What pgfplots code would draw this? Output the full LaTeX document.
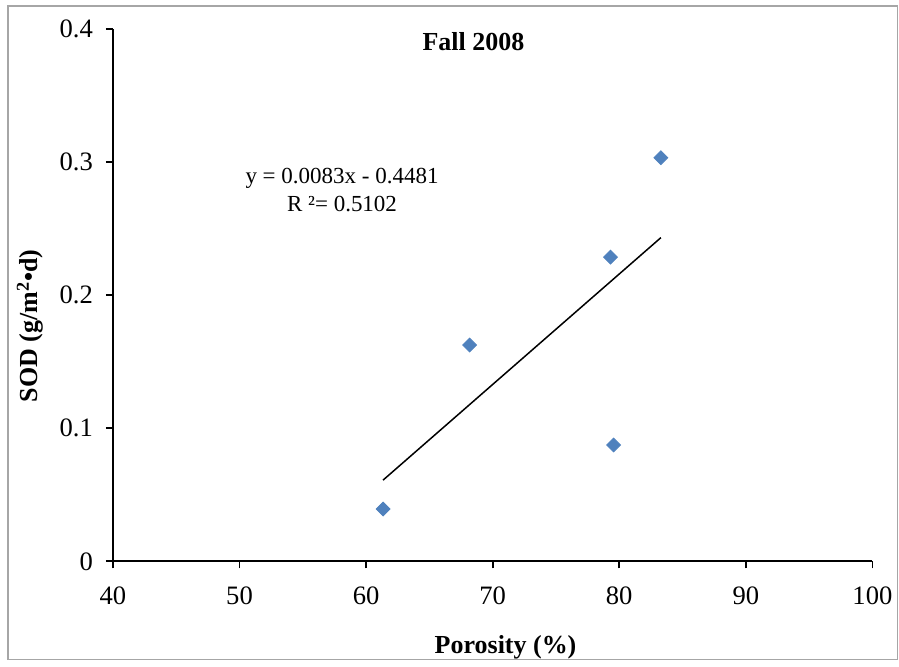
\documentclass[border=0pt]{standalone}
\usepackage{pgfplots}
\pgfplotsset{compat=1.18}
\usepackage{fontspec}
\setmainfont{Liberation Serif}
\definecolor{markblue}{HTML}{4F81BD}
\definecolor{framegray}{HTML}{A6A6A6}
\begin{document}
\begin{tikzpicture}
% page extent and outer chart frame
\path (0,0) rectangle (449.5pt,330.5pt);
\draw[framegray, line width=0.8pt] (4pt,0.6pt) rectangle (449pt,327.5pt);
\begin{axis}[
  at={(56.5pt,49.65pt)}, anchor=south west,
  scale only axis, width=380pt, height=266.35pt,
  xmin=40, xmax=100, ymin=0, ymax=0.4,
  axis x line*=bottom, axis y line*=left,
  axis line style={-, line width=0.9pt},
  every tick/.style={black, line width=0.9pt},
  tick align=outside, major tick length=3.5pt,
  xtick={40,50,...,100}, ytick={0,0.1,0.2,0.3,0.4},
  /pgf/number format/assume math mode=true,
  yticklabel style={/pgf/number format/fixed, /pgf/number format/precision=1, xshift=-3pt},
  ticklabel style={font=\fontsize{13.3}{15}\selectfont},
  xticklabel style={yshift=-5.5pt},
  xlabel={\textbf{Porosity (\%)}},
  xlabel style={font=\fontsize{13}{15}\selectfont, at={(axis description cs:0.517,-0.162)}, anchor=center},
  ylabel={\textbf{SOD (g/m\textsuperscript{2}•d)}},
  ylabel style={font=\fontsize{13}{15}\selectfont, at={(axis description cs:-0.109,0.4425)}, anchor=center, rotate=0},
  clip=false,
]
% linear trendline y = 0.0083x - 0.4481 over the data range
\addplot[black, line width=0.75pt] coordinates {(61.34,0.0610) (83.29,0.2432)};
% measured SOD against porosity
\addplot[only marks, mark=square*, mark size=2.45pt,
  mark options={rotate=45, fill=markblue, draw=markblue}] coordinates {
  (61.34,0.0393) (68.18,0.1625) (79.31,0.2285) (79.55,0.0874) (83.29,0.3033)};
\node[font=\fontsize{13}{15}\selectfont\bfseries] at (axis description cs:0.4747,0.9756) {Fall 2008};
\node[font=\fontsize{11.5}{14}\selectfont, align=center] at (axis cs:58.1,0.279)
  {y = 0.0083x - 0.4481\\R ²= 0.5102};
\end{axis}
\end{tikzpicture}
\end{document}
